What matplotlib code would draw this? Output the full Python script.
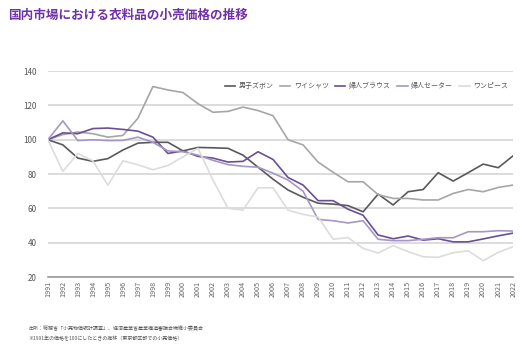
import matplotlib
matplotlib.use("Agg")
import matplotlib.pyplot as plt

plt.rcParams['font.family'] = ['Noto Sans CJK JP', 'DejaVu Sans']

# years and index values (1991 = 100)
years = list(range(1991, 2023))

mens_pants = [100, 97, 89.3, 87.4, 89, 94, 98, 98.5, 98.5, 93.5,
              95.5, 95.3, 95, 91, 84, 77, 70.7, 66.5, 63, 62.5,
              61.6, 58, 68.3, 62, 69.7, 71, 80.8, 75.9, 80.8, 85.8,
              83.7, 90.7]
dress_shirt = [100, 103, 104.5, 103.5, 101.5, 102.5, 112.5, 131, 129, 127.5,
               121, 116, 116.5, 119, 117, 114, 100, 97, 87, 81,
               75.5, 75.5, 68, 65.8, 65.8, 64.9, 64.9, 68.7, 71, 69.7,
               72.2, 73.6]
blouse = [100, 104, 103.5, 106.5, 106.8, 106, 105, 101.5, 92, 93.5,
          90.3, 89.3, 87, 87.4, 93, 88.5, 78, 73.6, 64.5, 64.5,
          59.5, 56, 44.5, 42.3, 43.9, 41.5, 42.3, 40.5, 40.5, 42.2,
          44, 45.6]
sweater = [100, 111, 99.5, 100, 99.5, 99.6, 101.5, 98.5, 93.5, 93,
           91, 88, 85.5, 84.5, 84, 80.5, 76.5, 70, 53.6, 52.8,
           51.5, 52.8, 42, 41.2, 41.2, 42, 42.9, 42.9, 46.4, 46.4,
           47, 46.8]
one_piece = [100, 81.5, 92, 87.7, 73.5, 87.7, 85.4, 82.5, 85, 90,
             95, 76.5, 60, 59, 72, 72, 59, 56.5, 55, 42,
             43, 36.7, 34, 38.3, 34.8, 31.8, 31.5, 34.2, 35.3, 29.5,
             34.4, 37.7]

series = [
    ("男子ズボン", mens_pants, "#595959"),
    ("ワイシャツ", dress_shirt, "#a6a6a6"),
    ("婦人ブラウス", blouse, "#6a4f96"),
    ("婦人セーター", sweater, "#a596c4"),
    ("ワンピース", one_piece, "#dcdcdc"),
]

fig = plt.figure(figsize=(5.2, 3.45), dpi=100)
ax = fig.add_axes([0.092, 0.197, 0.895, 0.597])

for name, vals, col in series:
    ax.plot(years, vals, color=col, lw=1.2, label=name)

ax.set_xlim(1991, 2022)
ax.set_ylim(20, 140)
ax.set_yticks(range(20, 141, 20))
ax.set_xticks(years)
ax.set_xticklabels([str(y) for y in years], rotation=90, fontsize=5.2, color="#666666")
ax.tick_params(axis='y', labelsize=5.8, colors="#555555", length=0, pad=8)
ax.tick_params(axis='x', length=0, pad=3)
ax.grid(axis='y', color="#d9d9d9", lw=1.3)
ax.set_axisbelow(True)
for s in ['top', 'right', 'left']:
    ax.spines[s].set_visible(False)
ax.spines['bottom'].set_color("#9a9a9a")
ax.spines['bottom'].set_linewidth(1.2)

leg = ax.legend(loc='upper right', bbox_to_anchor=(0.995, 0.96), ncol=5, frameon=False,
                fontsize=5.0, handlelength=1.5, handletextpad=0.5, columnspacing=0.9,
                borderaxespad=0)
for t in leg.get_texts():
    t.set_color("#555555")

fig.text(0.015, 0.955, "国内市場における衣料品の小売価格の推移", fontsize=9.1,
         fontweight='bold', color="#7030a8", va='center')
fig.text(0.054, 0.052, "出所：総務省「小売物価統計調査」、経済産業省産業構造審議会繊維小委員会",
         fontsize=3.6, color="#555555", va='center')
fig.text(0.054, 0.018, "※1991年の価格を100にしたときの推移（東京都区部での小売価格）",
         fontsize=3.6, color="#555555", va='center')

fig.savefig("out.png", dpi=100)
